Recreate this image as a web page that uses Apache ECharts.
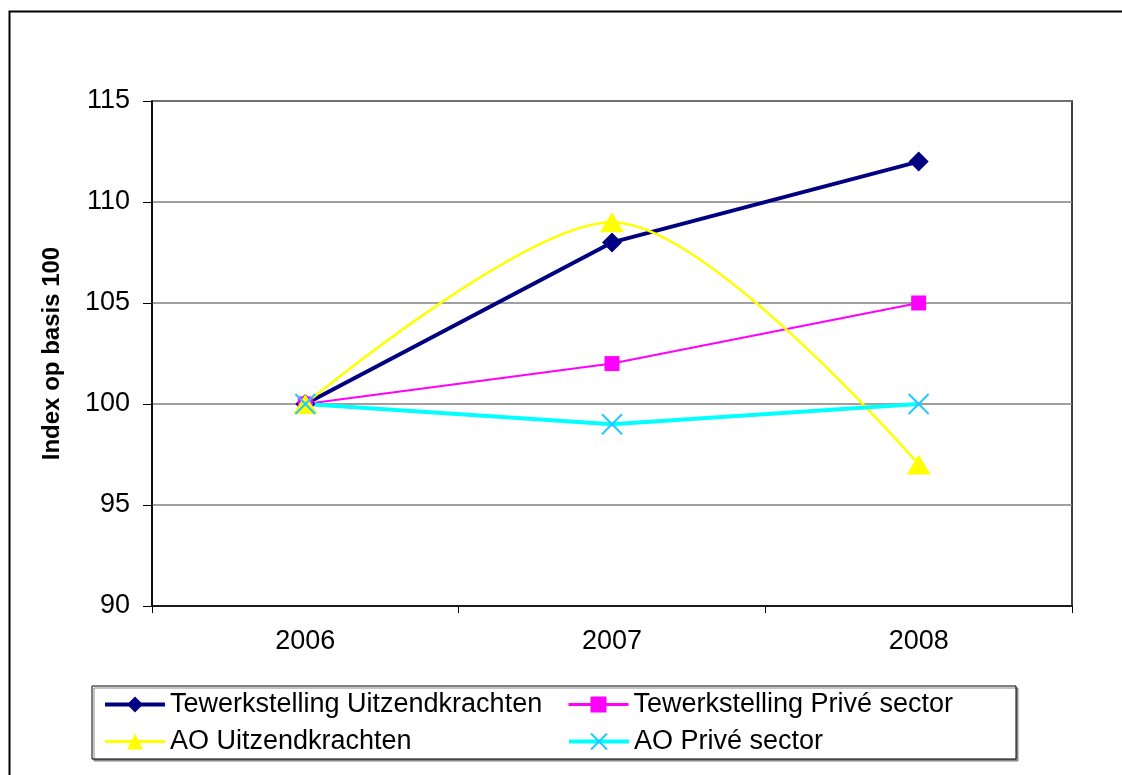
<!DOCTYPE html>
<html><head><meta charset="utf-8">
<script src="https://cdn.jsdelivr.net/npm/echarts@6/dist/echarts.min.js"></script>
<style>html,body{margin:0;padding:0;background:#fff}#c{width:1122px;height:775px}</style>
</head><body><div id="c"></div>
<script>
const years = ['2006', '2007', '2008'];
const tewUitzend = [100, 108, 112];
const tewPrive = [100, 102, 105];
const aoUitzend = [100, 109, 97];
const aoPrive = [100, 99, 100];
const seriesNames = ['Tewerkstelling Uitzendkrachten', 'Tewerkstelling Privé sector', 'AO Uitzendkrachten', 'AO Privé sector'];
const yTicks = [90, 95, 100, 105, 110, 115];

const FONT = 'Liberation Sans, Arial, sans-serif';
const chart = echarts.init(document.getElementById('c'));
chart.setOption({
  animation: false,
  backgroundColor: '#fff',
  textStyle: { fontFamily: FONT },
  graphic: [{
    type: 'rect', left: 7, top: 9, z: 100,
    shape: { x: 0, y: 0, width: 1200, height: 900 },
    style: { fill: 'none', stroke: '#000', lineWidth: 2 }
  }],
  grid: { left: 152, right: 50, top: 101, bottom: 169, show: true, borderColor: '#000', borderWidth: 1.5 },
  legend: {
    left: 92, top: 686,
    width: 980,
    padding: [5, 4, 4, 11],
    itemGap: 10,
    itemWidth: 60, itemHeight: 20,
    borderColor: '#000', borderWidth: 1,
    backgroundColor: '#fff',
    shadowColor: '#888', shadowOffsetX: 2, shadowOffsetY: 2, shadowBlur: 0,
    textStyle: { fontSize: 27, color: '#000', fontFamily: FONT, width: 387, lineHeight: 22 },
    data: [
      { name: seriesNames[0], lineStyle: { width: 4 }, textStyle: { width: 387 } },
      { name: seriesNames[1], lineStyle: { width: 3 }, textStyle: { width: 378 } },
      { name: seriesNames[2], lineStyle: { width: 3 }, textStyle: { width: 387 } },
      { name: seriesNames[3], lineStyle: { width: 4 }, textStyle: { width: 378 } }
    ]
  },
  xAxis: {
    type: 'category', data: years, boundaryGap: true,
    axisLine: { lineStyle: { color: '#000', width: 1.5 } },
    axisTick: { show: true, interval: 0, length: 7, lineStyle: { color: '#000' } },
    axisLabel: { fontSize: 27, color: '#000', margin: 22, fontFamily: FONT }
  },
  yAxis: {
    type: 'value', min: yTicks[0], max: yTicks[yTicks.length - 1], interval: 5,
    name: 'Index op basis 100', nameLocation: 'middle', nameGap: 88,
    nameTextStyle: { fontSize: 24, fontWeight: 'bold', color: '#000', fontFamily: FONT },
    axisLine: { show: true, lineStyle: { color: '#000', width: 1.5 } },
    axisTick: { show: true, length: 9, lineStyle: { color: '#000' } },
    axisLabel: { fontSize: 27, color: '#000', margin: 22, fontFamily: FONT },
    splitLine: { show: true, lineStyle: { color: '#808080', width: 1.5 } }
  },
  series: [
    {
      name: seriesNames[0], type: 'line', data: tewUitzend,
      symbol: 'diamond', symbolSize: 20,
      lineStyle: { color: '#000080', width: 4 },
      itemStyle: { color: '#000080' }
    },
    {
      name: seriesNames[1], type: 'line', data: tewPrive,
      symbol: 'rect', symbolSize: 15,
      lineStyle: { color: '#FF00FF', width: 2 },
      itemStyle: { color: '#FF00FF' }
    },
    {
      name: seriesNames[2], type: 'line', data: aoUitzend, smooth: 0.3,
      symbol: 'triangle', symbolSize: [24, 20],
      lineStyle: { color: '#FFFF00', width: 2.5 },
      itemStyle: { color: '#FFFF00' }
    },
    {
      name: seriesNames[3], type: 'line', data: aoPrive,
      symbol: 'path://M0,0L10,10M10,0L0,10', symbolSize: 20,
      lineStyle: { color: '#00FFFF', width: 4 },
      itemStyle: { color: 'none', borderColor: '#22C8FF', borderWidth: 2 }
    }
  ]
});
</script></body></html>
